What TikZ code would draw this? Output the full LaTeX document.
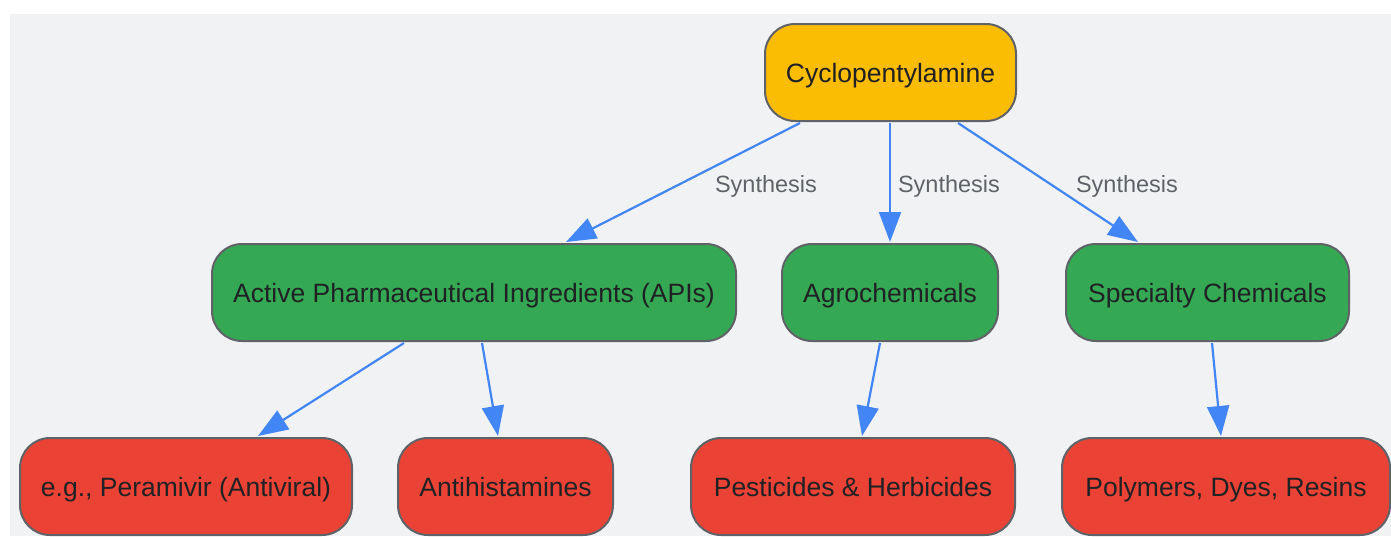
\documentclass[tikz,border=0pt]{standalone}
\usepackage{fontspec}
\setmainfont{Liberation Sans}
\usetikzlibrary{arrows.meta}
\definecolor{bgc}{HTML}{F1F2F4}
\definecolor{ylw}{HTML}{FBBC04}
\definecolor{grn}{HTML}{34A853}
\definecolor{rd}{HTML}{EA4335}
\definecolor{strk}{HTML}{5F6368}
\definecolor{txt}{HTML}{202124}
\definecolor{edg}{HTML}{4285F4}
\definecolor{lbl}{HTML}{5F6368}
\tikzset{
  box/.style={draw=strk, line width=2pt, rounded corners=30pt, minimum height=97pt, text=txt, inner sep=0pt,
    text height=26pt, text depth=6pt, font=\fontsize{26.5}{30}\selectfont},
  rootbox/.style={box, fill=ylw},
  midbox/.style={box, fill=grn},
  leafbox/.style={box, fill=rd},
  conn/.style={draw=edg, line width=2.2pt, -{Triangle[length=30pt,width=22pt]}},
  elabel/.style={text=lbl, inner sep=0pt, anchor=base, font=\fontsize{23.5}{28}\selectfont}
}
\begin{document}
\begin{tikzpicture}[x=1pt,y=-1pt]
\useasboundingbox (0,0) rectangle (1391,536);
\fill[bgc] (10,14) rectangle (1391,536);
\node[rootbox, minimum width=251pt] (cyc) at (890.5,72.5) {Cyclopentylamine};
\node[midbox, minimum width=524pt] (api) at (474,292.5) {Active Pharmaceutical Ingredients (APIs)};
\node[midbox, minimum width=216pt] (agro) at (890,292.5) {Agrochemicals};
\node[midbox, minimum width=283pt] (spec) at (1207.5,292.5) {Specialty Chemicals};
\node[leafbox, minimum width=332pt] (per) at (186,486.5) {e.g., Peramivir (Antiviral)};
\node[leafbox, minimum width=215pt] (anti) at (505.5,486.5) {Antihistamines};
\node[leafbox, minimum width=324pt] (pest) at (853,486.5) {Pesticides \& Herbicides};
\node[leafbox, minimum width=328pt] (poly) at (1226,486.5) {Polymers, Dyes, Resins};
\draw[conn] ([xshift=-90.5pt,yshift=-1pt]cyc.south) -- ([xshift=92pt,yshift=1pt]api.north);
\draw[conn] ([xshift=-0.5pt,yshift=-1pt]cyc.south) -- ([yshift=1pt]agro.north);
\draw[conn] ([xshift=67.5pt,yshift=-1pt]cyc.south) -- ([xshift=-69.5pt,yshift=1pt]spec.north);
\draw[conn] ([xshift=-70pt,yshift=-1pt]api.south) -- ([xshift=72pt,yshift=1pt]per.north);
\draw[conn] ([xshift=8pt,yshift=-1pt]api.south) -- ([xshift=-7.5pt,yshift=1pt]anti.north);
\draw[conn] ([xshift=-10pt,yshift=-1pt]agro.south) -- ([xshift=9pt,yshift=1pt]pest.north);
\draw[conn] ([xshift=4.5pt,yshift=-1pt]spec.south) -- ([xshift=-5pt,yshift=1pt]poly.north);
\node[elabel] (l1) at (766,192.5) {Synthesis};
\node[elabel] (l2) at (949,192.5) {Synthesis};
\node[elabel] (l3) at (1127,192.5) {Synthesis};
\end{tikzpicture}
\end{document}
